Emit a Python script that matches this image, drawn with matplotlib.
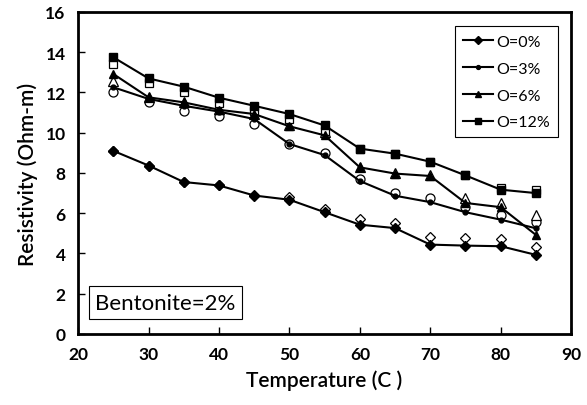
import matplotlib
matplotlib.use("Agg")
from matplotlib import pyplot as plt

# Temperature (C)
temps = [25, 30, 35, 40, 45, 50, 55, 60, 65, 70, 75, 80, 85]

# measured (filled markers, joined by lines)
o0 = [9.10, 8.37, 7.55, 7.38, 6.88, 6.67, 6.05, 5.43, 5.26, 4.44, 4.39, 4.36, 3.93]
o3 = [12.26, 11.68, 11.34, 11.05, 10.68, 9.44, 8.89, 7.60, 6.87, 6.55, 6.05, 5.68, 5.25]
o6 = [12.92, 11.76, 11.51, 11.14, 10.93, 10.32, 9.87, 8.28, 7.97, 7.85, 6.51, 6.30, 4.92]
o12 = [13.75, 12.70, 12.29, 11.74, 11.34, 10.93, 10.36, 9.21, 8.96, 8.56, 7.88, 7.17, 7.00]

# second set (open markers, no lines)
o0_open = [9.10, 8.37, 7.55, 7.38, 6.90, 6.83, 6.22, 5.71, 5.52, 4.80, 4.78, 4.73, 4.31]
o3_open = [12.04, 11.51, 11.10, 10.82, 10.43, 9.44, 8.98, 7.70, 7.02, 6.78, 6.30, 5.91, 5.58]
o6_open = [12.59, 11.80, 11.55, 11.20, 10.95, 10.40, 10.05, 8.30, 8.00, 7.90, 6.74, 6.51, 5.91]
o12_open = [13.42, 12.46, 12.01, 11.46, 11.10, 10.68, 10.10, 9.20, 8.95, 8.55, 7.88, 7.25, 7.16]

labels = ["O=0%", "O=3%", "O=6%", "O=12%"]
markers = ["D", "o", "^", "s"]
sizes = [5.5, 3.5, 6, 5.5]
open_sizes = [5.5, 6.5, 6.5, 6]

plt.rcParams['font.family'] = ['Lato', 'DejaVu Sans']

fig = plt.figure(figsize=(5.87, 4.06), dpi=100)
ax = fig.add_axes([0.133, 0.175, 0.840, 0.793])

for ys, m, s in zip([o0_open, o3_open, o6_open, o12_open], markers, open_sizes):
    ax.plot(temps, ys, linestyle='none', marker=m, markersize=s,
            markerfacecolor='white', markeredgecolor='black', markeredgewidth=0.9, zorder=2)

for ys, m, s, lab in zip([o0, o3, o6, o12], markers, sizes, labels):
    ax.plot(temps, ys, color='black', linewidth=1.5, marker=m, markersize=s,
            markerfacecolor='black', markeredgecolor='black', label=lab, zorder=3)

ax.set_xlim(20, 90)
ax.set_ylim(0, 16)
ax.set_xticks(range(20, 91, 10))
ax.set_yticks(range(0, 17, 2))
ax.tick_params(direction='in', length=5, width=1, labelsize=12.5, pad=9)
for lbl in ax.get_xticklabels() + ax.get_yticklabels():
    lbl.set_fontweight('bold')
for sp in ax.spines.values():
    sp.set_linewidth(2)

ax.set_xlabel('Temperature (C )', fontsize=15, fontweight='semibold', labelpad=5)
ax.set_ylabel('Resistivity (Ohm-m)', fontsize=15, fontweight='semibold', labelpad=5)

leg = ax.legend(loc='upper right', bbox_to_anchor=(0.99, 0.98), fontsize=11.5,
                frameon=True, fancybox=False, edgecolor='black', framealpha=1,
                labelspacing=0.8, handlelength=1.9, handletextpad=0.2,
                borderpad=0.5, markerscale=0.8)
leg.get_frame().set_linewidth(0.8)

ax.text(0.035, 0.097, 'Bentonite=2%', transform=ax.transAxes, fontsize=16,
        ha='left', va='center',
        bbox=dict(boxstyle='square,pad=0.3', facecolor='white', edgecolor='black', linewidth=0.8))

fig.savefig('out.png', dpi=100)
